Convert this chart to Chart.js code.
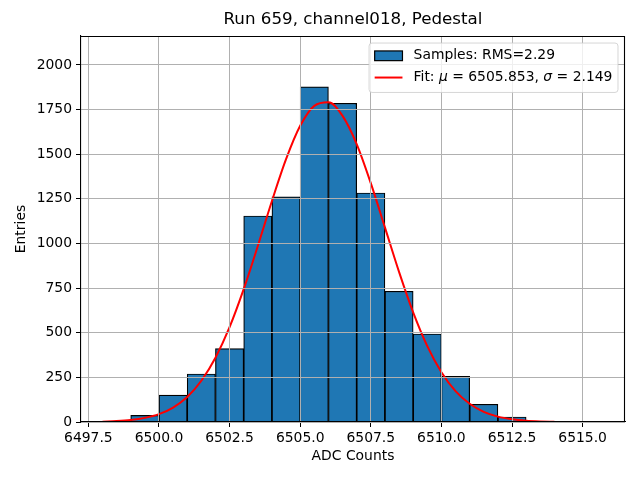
<!DOCTYPE html>
<html>
<head>
<meta charset="utf-8">
<script src="https://cdn.jsdelivr.net/npm/chart.js@4/dist/chart.umd.min.js"></script>
<style>
  html, body { margin: 0; padding: 0; background: #fff; }
</style>
</head>
<body>
<canvas id="pedestalChart" width="640" height="480"></canvas>
<script>
// Pedestal histogram for run 659, channel018

// histogram bins (left edge, width 1 ADC count) and entries
const binStarts = [6499, 6500, 6501, 6502, 6503, 6504, 6505, 6506, 6507, 6508, 6509, 6510, 6511, 6512];
const binCounts = [37, 151, 269, 411, 1154, 1261, 1877, 1785, 1283, 732, 493, 256, 99, 28];

// gaussian fit curve
const fitX = [6498, 6498.5, 6499, 6499.5, 6500, 6500.5, 6501, 6501.5, 6502, 6502.5, 6503, 6503.5,
              6504, 6504.5, 6505, 6505.5, 6506, 6506.5, 6507, 6507.5, 6508, 6508.5, 6509, 6509.5,
              6510, 6510.5, 6511, 6511.5, 6512, 6512.5, 6513, 6513.5, 6514];
const fitY = [2, 5, 11, 23, 44, 81, 140, 231, 360, 531, 744, 986,
              1238, 1472, 1659, 1771, 1791, 1715, 1557, 1338, 1090, 841, 614, 425,
              279, 173, 102, 57, 30, 15, 7, 3, 1];

// axis ticks
const xTicks = [6497.5, 6500, 6502.5, 6505, 6507.5, 6510, 6512.5, 6515];
const yTicks = [0, 250, 500, 750, 1000, 1250, 1500, 1750, 2000];

const sampleLabel = 'Samples: RMS=2.29';
// [text, italic]
const fitLabelParts = [['Fit: ', false], ['\u03bc', true], [' = 6505.853, ', false], ['\u03c3', true], [' = 2.149', false]];

const FONT = 'DejaVu Sans';
const FS = 13.9;

Chart.defaults.font.family = FONT;
Chart.defaults.font.size = FS;
Chart.defaults.color = '#000';

// top and right spines (left/bottom come from the scale borders)
const axesFrame = {
    id: 'axesFrame',
    afterDraw(chart) {
        const a = chart.chartArea;
        const c = chart.ctx;
        const l = Math.round(a.left), t = Math.round(a.top) + 0.5;
        const r = Math.round(a.right) - 0.5, b = Math.round(a.bottom);
        c.save();
        c.strokeStyle = '#000';
        c.lineWidth = 1.1;
        c.beginPath();
        c.moveTo(l, t);
        c.lineTo(r, t);
        c.lineTo(r, b);
        c.stroke();
        c.restore();
    }
};

// matplotlib style legend box in the upper right corner
const mplLegend = {
    id: 'mplLegend',
    afterDraw(chart) {
        const a = chart.chartArea;
        const c = chart.ctx;
        c.save();
        const normal = FS + 'px "' + FONT + '"';
        const italic = 'italic ' + FS + 'px "' + FONT + '"';
        c.font = normal;
        const w1 = c.measureText(sampleLabel).width;
        let w2 = 0;
        fitLabelParts.forEach(p => {
            c.font = p[1] ? italic : normal;
            w2 += c.measureText(p[0]).width;
        });
        const pad = 5.6, handle = 27.8, gap = 11.1;
        const w = pad + handle + gap + Math.max(w1, w2) + pad;
        const h = 49.4;
        const right = a.right - 7, top = a.top + 7;
        const left = right - w;

        c.beginPath();
        c.moveTo(left + 3, top);
        c.arcTo(left + w, top, left + w, top + h, 3);
        c.arcTo(left + w, top + h, left, top + h, 3);
        c.arcTo(left, top + h, left, top, 3);
        c.arcTo(left, top, left + w, top, 3);
        c.closePath();
        c.fillStyle = 'rgba(255,255,255,0.8)';
        c.fill();
        c.strokeStyle = 'rgba(204,204,204,0.8)';
        c.lineWidth = 1;
        c.stroke();

        const row1 = top + 12.7, row2 = top + 34.5;
        const hx = left + pad;
        // patch
        c.fillStyle = '#1f77b4';
        c.fillRect(hx, row1 - 4.8, handle, 9.7);
        c.strokeStyle = '#000';
        c.lineWidth = 1.2;
        c.strokeRect(hx, row1 - 4.8, handle, 9.7);
        // line
        c.beginPath();
        c.moveTo(hx, row2);
        c.lineTo(hx + handle, row2);
        c.strokeStyle = 'red';
        c.lineWidth = 2;
        c.stroke();

        c.fillStyle = '#000';
        c.textBaseline = 'middle';
        c.textAlign = 'left';
        const tx = hx + handle + gap;
        c.font = normal;
        c.fillText(sampleLabel, tx, row1);
        let x = tx;
        fitLabelParts.forEach(p => {
            c.font = p[1] ? italic : normal;
            c.fillText(p[0], x, row2);
            x += c.measureText(p[0]).width;
        });
        c.restore();
    }
};

const canvas = document.getElementById('pedestalChart');
new Chart(canvas, {
    data: {
        datasets: [{
            type: 'bar',
            label: sampleLabel,
            data: binStarts.map((s, i) => ({ x: s + 0.5, y: binCounts[i] })),
            backgroundColor: '#1f77b4',
            borderColor: '#000',
            borderWidth: 1.2,
            barPercentage: 1,
            categoryPercentage: 1,
            order: 2
        }, {
            type: 'line',
            label: 'Fit',
            data: fitX.map((v, i) => ({ x: v, y: fitY[i] })),
            borderColor: 'red',
            borderWidth: 2,
            pointRadius: 0,
            cubicInterpolationMode: 'monotone',
            fill: false,
            order: 1
        }]
    },
    options: {
        responsive: false,
        animation: false,
        layout: { padding: { left: 0, right: 15, top: 0, bottom: 0 } },
        plugins: {
            legend: { display: false },
            tooltip: { enabled: false },
            title: {
                display: true,
                fullSize: false,
                text: 'Run 659, channel018, Pedestal',
                font: { size: 16.7, weight: 'normal' },
                color: '#000',
                padding: { top: 10, bottom: 6 }
            }
        },
        scales: {
            x: {
                type: 'linear',
                min: 6497.24,
                max: 6516.5,
                offset: false,
                afterBuildTicks: axis => { axis.ticks = xTicks.map(v => ({ value: v })); },
                afterFit: axis => { axis.height = 58; },
                ticks: {
                    callback: v => v.toFixed(1),
                    padding: 3,
                    maxRotation: 0,
                    autoSkip: false,
                    z: 2
                },
                grid: {
                    color: '#b0b0b0',
                    lineWidth: 1,
                    tickColor: '#000',
                    tickWidth: 1,
                    tickLength: 5,
                    offset: false,
                    z: 1
                },
                border: { color: '#000', width: 1.1, z: 2 },
                title: {
                    display: true,
                    text: 'ADC Counts',
                    padding: { top: 0, bottom: 15 }
                }
            },
            y: {
                min: 0,
                max: 2162,
                afterBuildTicks: axis => { axis.ticks = yTicks.map(v => ({ value: v })); },
                afterFit: axis => { axis.width = 81; },
                ticks: { padding: 4, callback: v => String(v), z: 2 },
                grid: {
                    color: '#b0b0b0',
                    lineWidth: 1,
                    tickColor: '#000',
                    tickWidth: 1,
                    tickLength: 5,
                    z: 1
                },
                border: { color: '#000', width: 1.1, z: 2 },
                title: {
                    display: true,
                    text: 'Entries',
                    padding: { top: 13, bottom: 0 }
                }
            }
        }
    },
    plugins: [axesFrame, mplLegend]
});
</script>
</body>
</html>
